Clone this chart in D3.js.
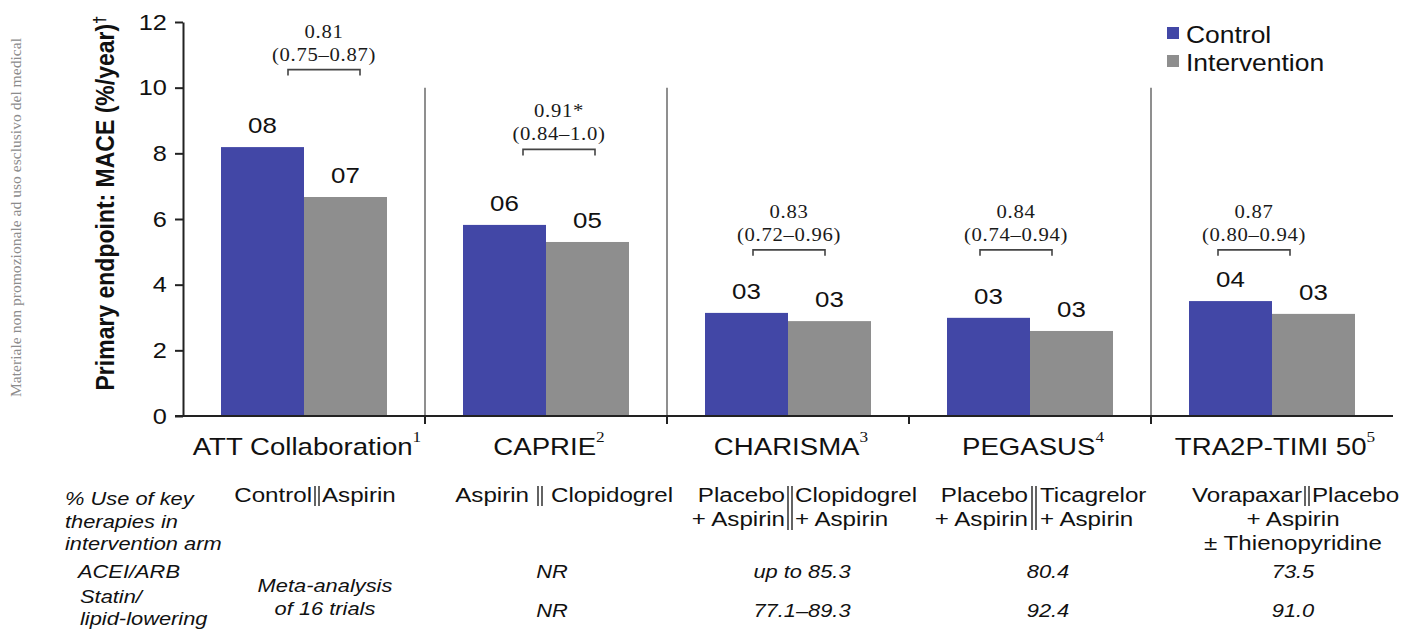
<!DOCTYPE html>
<html><head><meta charset="utf-8">
<script src="https://cdn.jsdelivr.net/npm/d3@7"></script>
<style>html,body{margin:0;padding:0;background:#fff;}svg{display:block;}</style>
</head><body>
<svg id="chart" width="1413" height="631"></svg>
<script>
// ---------- data ----------
const categories = ["ATT Collaboration", "CAPRIE", "CHARISMA", "PEGASUS", "TRA2P-TIMI 50"];
const refs = ["1", "2", "3", "4", "5"];
const series = ["Control", "Intervention"];
const controlValues = [8.19, 5.82, 3.14, 2.99, 3.5];
const interventionValues = [6.67, 5.30, 2.89, 2.59, 3.11];
const hrValues = ["0.81", "0.91*", "0.83", "0.84", "0.87"];
const hrCI = ["(0.75–0.87)", "(0.84–1.0)", "(0.72–0.96)", "(0.74–0.94)", "(0.80–0.94)"];
const hrLevels = [10.55, 8.12, 5.06, 5.06, 5.06];
const yTicks = [0, 2, 4, 6, 8, 10, 12];
const therapyLeft = [["Control"], ["Aspirin"], ["Placebo", "+ Aspirin"], ["Placebo", "+ Aspirin"], ["Vorapaxar"]];
const therapyRight = [["Aspirin"], ["Clopidogrel"], ["Clopidogrel", "+ Aspirin"], ["Ticagrelor", "+ Aspirin"], ["Placebo"]];
const therapyExtra = [[], [], [], [], ["+ Aspirin", "± Thienopyridine"]];
const aceiArb = [null, "NR", "up to 85.3", "80.4", "73.5"];
const statin = [null, "NR", "77.1–89.3", "92.4", "91.0"];
const attNote = ["Meta-analysis", "of 16 trials"];
const rowHeader = ["% Use of key", "therapies in", "intervention arm"];
const rowAcei = ["ACEI/ARB"];
const rowStatin = ["Statin/", "lipid-lowering"];
const yTitle = "Primary endpoint: MACE (%/year)";
const watermark = "Materiale non promozionale ad uso esclusivo del medical";

// ---------- layout ----------
const SX = 1.15;
const SANS = "'Liberation Sans', Arial, sans-serif";
const SERIF = "'Liberation Serif', 'Times New Roman', serif";
const colors = {Control: "#4247A6", Intervention: "#8E8E8E"};
const bracketOffset = [141, 134, 122, 107, 103];   // bracket centre from band start
const sepOffset = [13, -6, 2, 4, 35];               // table double-bar from band centre
const sepGap = [5, 11, 5, 6, 5];
const valOffset = [21, 6, 14, 18, 21];              // table values from band centre

const svg = d3.select("#chart");
const x = d3.scaleBand().domain(categories).range([183, 1393]).paddingInner(0).paddingOuter(0);
const x1 = d3.scaleBand().domain(series).range([38, 204]);
const y = d3.scaleLinear().domain([0, 12]).range([416, 22]);

function stext(parent, px, py, str, o = {}) {
  return parent.append("text")
    .attr("transform", `translate(${px},${py}) scale(${SX},1)`)
    .attr("text-anchor", o.anchor || "middle")
    .attr("font-family", o.family || SANS)
    .attr("font-size", o.size || 20)
    .attr("font-weight", o.weight || "normal")
    .attr("font-style", o.style || "normal")
    .attr("letter-spacing", o.ls || 0)
    .attr("fill", o.fill || "#111")
    .text(str);
}

// watermark
svg.append("text")
  .attr("transform", "translate(21,397) rotate(-90)")
  .attr("font-family", SERIF).attr("font-size", 15.6).attr("fill", "#8c8c8c")
  .text(watermark);

// y title
const yt = svg.append("text")
  .attr("transform", "translate(114,203) rotate(-90) scale(1,1.12)")
  .attr("text-anchor", "middle")
  .attr("font-family", SANS).attr("font-size", 23).attr("font-weight", "bold").attr("fill", "#111");
yt.append("tspan").text(yTitle);
yt.append("tspan").attr("dy", -8).attr("font-size", 15).text("†");

// vertical separators
const bounds = categories.slice(1).map(c => x(c));
svg.selectAll("line.sep").data([bounds[0], bounds[1], bounds[3]]).enter().append("line")
  .attr("class", "sep").attr("x1", d => d).attr("x2", d => d)
  .attr("y1", y(10)).attr("y2", y(0))
  .attr("stroke", "#6a6a6a").attr("stroke-width", 1.5);

// bars
const rows = categories.map((c, i) => ({cat: c, vals: [
  {s: "Control", v: controlValues[i]}, {s: "Intervention", v: interventionValues[i]}]}));
const grp = svg.selectAll("g.cat").data(rows).enter().append("g")
  .attr("class", "cat").attr("transform", d => `translate(${x(d.cat)},0)`);
grp.selectAll("rect").data(d => d.vals).enter().append("rect")
  .attr("x", d => x1(d.s)).attr("width", x1.bandwidth())
  .attr("y", d => y(d.v)).attr("height", d => y(0) - y(d.v))
  .attr("fill", d => colors[d.s]);
grp.each(function(d) {
  const g = d3.select(this);
  d.vals.forEach(v => {
    stext(g, x1(v.s) + x1.bandwidth() / 2, y(v.v) - 14, d3.format("02d")(Math.round(v.v)), {size: 22.5});
  });
});

// HR brackets
categories.forEach((c, i) => {
  const cx = x(c) + bracketOffset[i];
  const by = y(hrLevels[i]);
  const w = 72;
  svg.append("path")
    .attr("d", `M${cx - w / 2},${by + 6}V${by}H${cx + w / 2}V${by + 6}`)
    .attr("fill", "none").attr("stroke", "#444").attr("stroke-width", 1.6);
  stext(svg, cx, by - 9, hrCI[i], {family: SERIF, size: 18, ls: 0.6, fill: "#1a1a1a"});
  stext(svg, cx, by - 32, hrValues[i], {family: SERIF, size: 18, ls: 0.6, fill: "#1a1a1a"});
});

// y axis
const yAxis = svg.append("g").attr("transform", "translate(183,0)")
  .call(d3.axisLeft(y).tickValues(yTicks).tickSize(8).tickSizeOuter(0).tickPadding(6).tickFormat(d3.format("d")));
yAxis.select(".domain").attr("stroke", "#222").attr("stroke-width", 2);
yAxis.selectAll(".tick line").attr("stroke", "#222").attr("stroke-width", 2);
yAxis.selectAll(".tick text")
  .attr("transform", `scale(${SX},1)`)
  .attr("font-family", SANS).attr("font-size", 22).attr("fill", "#111");

// x axis
svg.append("line").attr("x1", 175).attr("x2", x.range()[1]).attr("y1", y(0)).attr("y2", y(0))
  .attr("stroke", "#222").attr("stroke-width", 2);
svg.selectAll("line.xt").data(bounds).enter().append("line").attr("class", "xt")
  .attr("x1", d => d).attr("x2", d => d).attr("y1", y(0)).attr("y2", y(0) + 8)
  .attr("stroke", "#222").attr("stroke-width", 2);
categories.forEach((c, i) => {
  const t = stext(svg, x(c) + x.bandwidth() / 2 + 3, 455, "", {size: 24});
  t.append("tspan").text(c);
  t.append("tspan").attr("dy", -13).attr("font-family", SERIF).attr("font-size", 15).text(refs[i]);
});

// legend
series.forEach((s, i) => {
  svg.append("rect").attr("x", 1167).attr("y", 27 + i * 28).attr("width", 12).attr("height", 12).attr("fill", colors[s]);
  stext(svg, 1186, 43 + i * 28, s, {anchor: "start", size: 23});
});

// table
rowHeader.forEach((t, k) => stext(svg, 65, 505 + k * 22.5, t, {anchor: "start", size: 19, style: "italic"}));
stext(svg, 78, 578, rowAcei[0], {anchor: "start", size: 19, style: "italic"});
rowStatin.forEach((t, k) => stext(svg, 80, 603 + k * 22, t, {anchor: "start", size: 19, style: "italic"}));

categories.forEach((c, i) => {
  const bc = x(c) + x.bandwidth() / 2;
  const sep = bc + sepOffset[i];
  const vc = bc + valOffset[i];
  therapyLeft[i].forEach((t, k) => stext(svg, sep - sepGap[i], 502 + k * 24, t, {anchor: "end", size: 21}));
  therapyRight[i].forEach((t, k) => stext(svg, sep + sepGap[i], 502 + k * 24, t, {anchor: "start", size: 21}));
  const nl = therapyLeft[i].length;
  [-2, 2].forEach(dx => svg.append("line")
    .attr("x1", sep + dx).attr("x2", sep + dx).attr("y1", 486).attr("y2", 502 + (nl - 1) * 24 + 4)
    .attr("stroke", "#222").attr("stroke-width", 1.4));
  therapyExtra[i].forEach((t, k) => stext(svg, vc, 526 + k * 24, t, {size: 21}));
  if (aceiArb[i]) stext(svg, vc, 578, aceiArb[i], {size: 19, style: "italic"});
  if (statin[i]) stext(svg, vc, 617, statin[i], {size: 19, style: "italic"});
  if (i === 0) attNote.forEach((t, k) => stext(svg, vc, 592 + k * 23, t, {size: 19, style: "italic"}));
});
</script>
</body></html>
